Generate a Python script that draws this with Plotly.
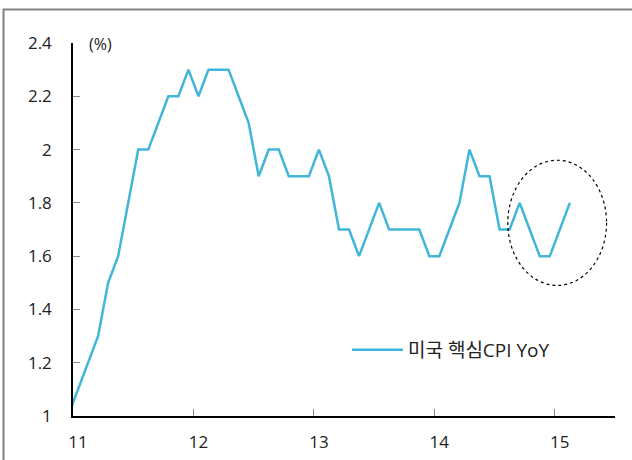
import plotly.graph_objects as go

# US core CPI YoY (%), monthly Jan 2011 - Mar 2015
years = [2011] * 12 + [2012] * 12 + [2013] * 12 + [2014] * 12 + [2015] * 3
months = list(range(1, 13)) * 4 + [1, 2, 3]
core_cpi_yoy = [
    1.0, 1.1, 1.2, 1.3, 1.5, 1.6, 1.8, 2.0, 2.0, 2.1, 2.2, 2.2,
    2.3, 2.2, 2.3, 2.3, 2.3, 2.2, 2.1, 1.9, 2.0, 2.0, 1.9, 1.9,
    1.9, 2.0, 1.9, 1.7, 1.7, 1.6, 1.7, 1.8, 1.7, 1.7, 1.7, 1.7,
    1.6, 1.6, 1.7, 1.8, 2.0, 1.9, 1.9, 1.7, 1.7, 1.8, 1.7, 1.6,
    1.6, 1.7, 1.8,
]
series_name = "미국 핵심CPI YoY"
x_tick_vals = [11, 12, 13, 14, 15]
x_tick_text = ["11", "12", "13", "14", "15"]
y_tick_vals = [1, 1.2, 1.4, 1.6, 1.8, 2, 2.2, 2.4]
y_tick_text = ["1", "1.2", "1.4", "1.6", "1.8", "2", "2.2", "2.4"]

# year-fraction x position (year label sits between Jan and Feb)
x_vals = [(y - 2000) + (m - 1.5) / 12 for y, m in zip(years, months)]

W, H = 632, 460
L, R, T, B = 73, 17, 43, 44
pw, ph = W - L - R, H - T - B


def px_x(p):
    return (p - L) / pw


def px_y(p):
    return (H - B - p) / ph


fig = go.Figure()
fig.add_trace(go.Scatter(
    x=x_vals, y=core_cpi_yoy, mode="lines", name=series_name,
    line=dict(color="#41B6D8", width=2.5),
))

font_family = "Open Sans, Noto Sans CJK KR, sans-serif"

fig.update_layout(
    width=W, height=H,
    margin=dict(l=L, r=R, t=T, b=B, autoexpand=False),
    paper_bgcolor="white", plot_bgcolor="white",
    font=dict(family=font_family, size=17, color="#222222"),
    showlegend=True,
    legend=dict(
        x=px_x(347), y=px_y(350), xanchor="left", yanchor="middle",
        bgcolor="rgba(0,0,0,0)", font=dict(size=19, family=font_family),
        itemwidth=51,
    ),
    xaxis=dict(
        range=[11, 15.5], tickmode="array", tickvals=x_tick_vals,
        ticktext=x_tick_text, showgrid=False, zeroline=False,
        showline=True, linecolor="black", linewidth=1.5,
        ticks="inside", ticklen=7, tickcolor="#888888", tickwidth=1,
        ticklabelshift=5, ticklabelstandoff=10,
    ),
    yaxis=dict(
        range=[1, 2.4], tickmode="array", tickvals=y_tick_vals,
        ticktext=y_tick_text, showgrid=False, zeroline=False,
        showline=True, linecolor="black", linewidth=1.5,
        ticks="inside", ticklen=7, tickcolor="#888888", tickwidth=1,
        ticklabelstandoff=16,
    ),
    annotations=[dict(
        text="(%)", xref="paper", yref="paper", x=px_x(87), y=px_y(44),
        xanchor="left", yanchor="middle", showarrow=False,
        font=dict(size=16, family=font_family, color="#222222"),
    )],
    shapes=[
        dict(type="line", xref="paper", yref="paper",
             x0=px_x(3), x1=px_x(W), y0=px_y(9.5), y1=px_y(9.5),
             line=dict(color="#808080", width=2)),
        dict(type="line", xref="paper", yref="paper",
             x0=px_x(3.5), x1=px_x(3.5), y0=px_y(9), y1=px_y(H),
             line=dict(color="#808080", width=2)),
        dict(type="circle", xref="x", yref="y",
             x0=14.61, x1=15.43, y0=1.49, y1=1.96,
             line=dict(color="black", width=1.2, dash="dot")),
    ],
)

fig.write_html(
    "out.html",
    config={"displayModeBar": False},
    post_script="document.body.style.margin='0';",
)
